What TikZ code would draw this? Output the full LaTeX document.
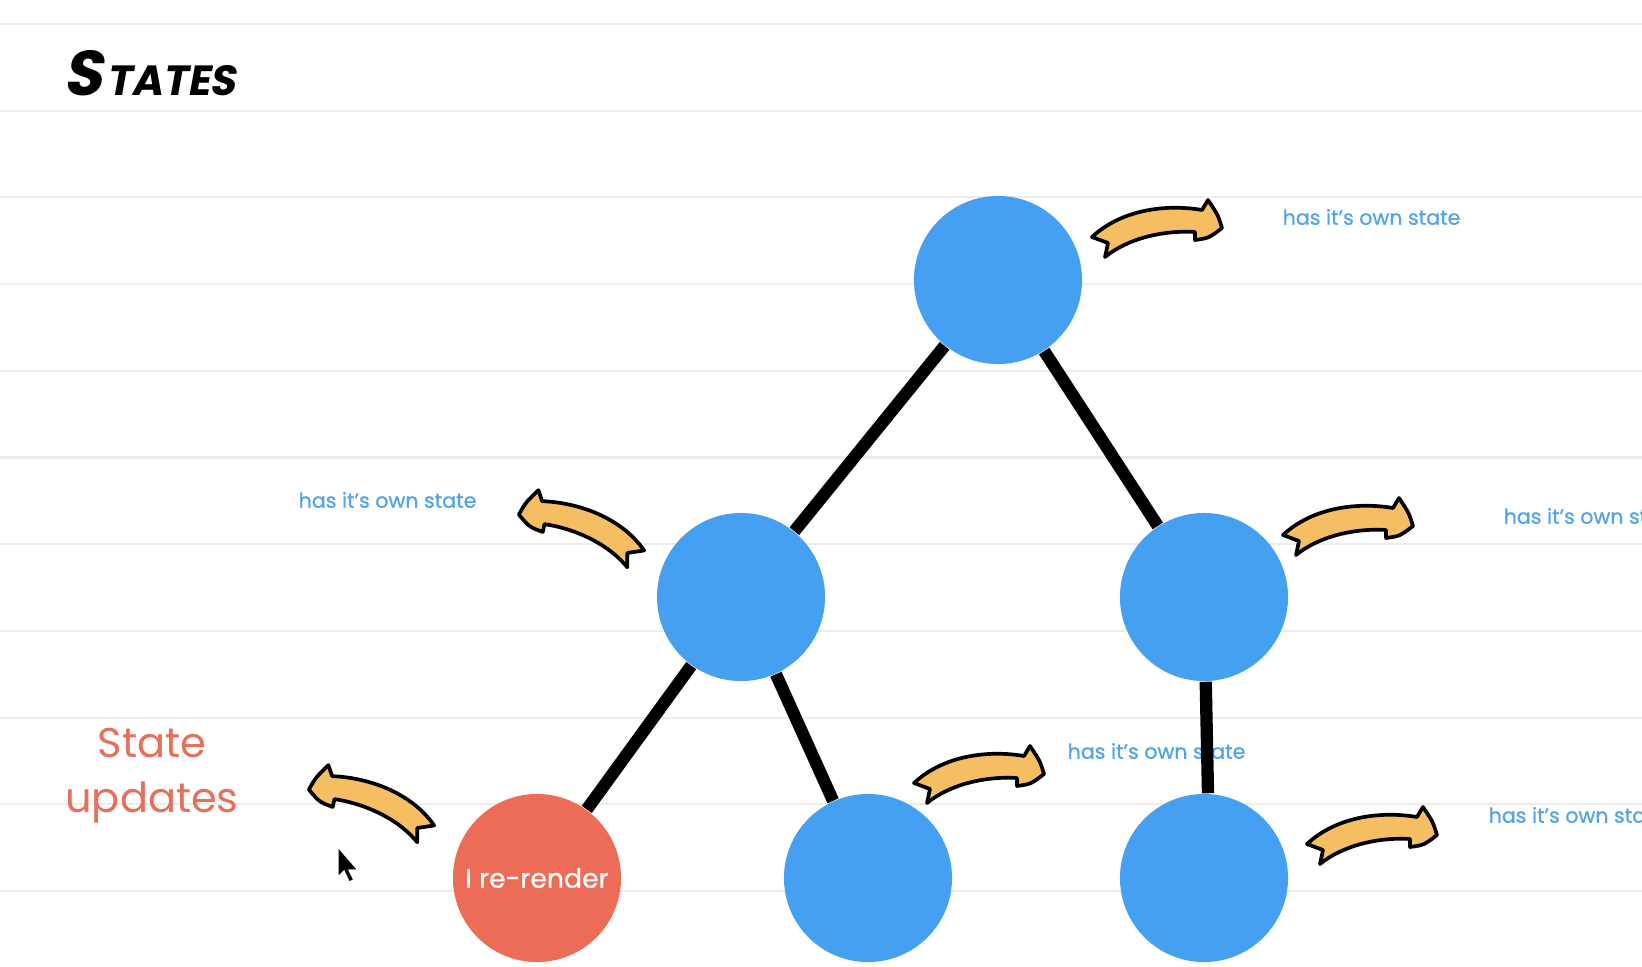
\documentclass[tikz,border=0pt]{standalone}
\usepackage{fontspec}
\setmainfont{Poppins}
\newfontfamily\titlefont[FakeSlant=0.18]{Poppins}
\newfontfamily\notefont[FakeBold=0.7]{Poppins}
\definecolor{dotblue}{HTML}{45A0F2}
\definecolor{noteblue}{HTML}{4FA4EA}
\definecolor{redraw}{HTML}{EC6C58}
\definecolor{redtext}{HTML}{E8705B}
\definecolor{swooshfill}{HTML}{F5BE63}
\definecolor{ruling}{HTML}{ECECEC}

\begin{document}
\begin{tikzpicture}[x=0.01cm,y=-0.01cm,
  dot/.style={circle,fill=dotblue,minimum size=1.68cm,inner sep=0pt},
  rerender/.style={dot,fill=redraw,text=white,font=\notefont\fontsize{7.6}{9}\selectfont},
  link/.style={line width=3.5pt},
  note/.style={anchor=west,inner sep=0pt,text=noteblue,font=\notefont\fontsize{5.85}{7}\selectfont},
  ruled/.style={draw=ruling,line width=0.6pt},
  swoosh/.pic={
    \draw[fill=swooshfill,line width=1.05pt,line join=round]
      (0,-20) -- (16,-14) -- (13,0)
      .. controls (35,-18) and (70,-27) .. (103,-25) -- (103,-17)
      .. controls (117,-19) .. (130,-29)
      .. controls (126,-42) .. (116,-57) -- (110,-47)
      .. controls (75,-53) and (30,-48) .. (0,-20) -- cycle;},
]
  \clip (0,0) rectangle (1642,966);
  \fill[white] (0,0) rectangle (1642,966);
  \foreach \k in {0,...,10}
    \draw[ruled] (0,{24+86.7*\k}) -- (1642,{24+86.7*\k});

  \node[anchor=west,inner sep=0pt,font=\titlefont\bfseries] (title) at (63,73)
    {{\fontsize{18}{18}\selectfont S}\kern1pt{\fontsize{12}{12}\selectfont TATES}};

  \node[dot] (root) at (998,280) {};
  \node[dot] (left) at (741,597) {};
  \node[dot] (right) at (1204,597) {};
  \node[rerender] (me) at (537,878) {I re-render};
  \node[dot] (mid) at (868,878) {};
  \node[dot] (leaf) at (1204,878) {};

  \node[note] (rootnote) at (1282,217) {has it’s own state};
  \node[note] (leftnote) at (298,500) {has it’s own state};
  \node[note] (rightnote) at (1503,516) {has it’s own state};
  \node[note] (midnote) at (1067,751) {has it’s own state};
  \node[note] (leafnote) at (1488,815) {has it’s own state};
  \node[align=center,text=redtext,font=\fontsize{11.8}{15.6}\selectfont] (updates)
    at (152,776) {State\\updates};

  \draw[link] (root) -- (left);
  \draw[link] (root) -- (right);
  \draw[link] (left) -- (me);
  \draw[link] (left) -- (mid);
  \draw[link] (right) -- ([xshift=0.04cm]leaf.north);

  \pic at (1092,257) {swoosh};
  \pic at (1283,555) {swoosh};
  \pic at (914,803) {swoosh};
  \pic at (1307,864) {swoosh};
  \pic[rotate=-12,xscale=-1] at (640,570) {swoosh};
  \pic[rotate=-12,xscale=-1] at (430,845) {swoosh};

  \filldraw[fill=black,draw=white,line width=0.4pt,line join=round]
    (338,847) -- ++(0,30) -- ++(6,-6) -- ++(5,11) -- ++(5,-2) -- ++(-5,-10) -- ++(9,0) -- cycle;
\end{tikzpicture}
\end{document}
